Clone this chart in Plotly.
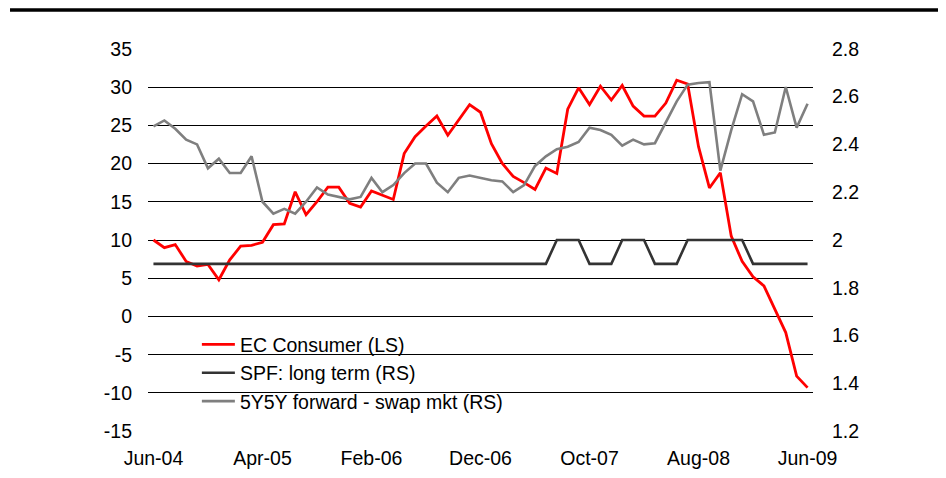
import pandas as pd
import plotly.subplots as sp
import plotly.graph_objs as go

months = pd.date_range("2004-06-01", "2009-06-01", freq="MS").strftime("%b-%y").tolist()
tick_months = ["Jun-04", "Apr-05", "Feb-06", "Dec-06", "Oct-07", "Aug-08", "Jun-09"]

ec_consumer = [10, 9, 9.4, 7.2, 6.6, 6.8, 4.8, 7.4, 9.2, 9.3,
               9.7, 12, 12.1, 16.3, 13.3, 15, 16.9, 16.9, 14.8, 14.3,
               16.4, 15.9, 15.3, 21.3, 23.5, 24.9, 26.2, 23.7, 25.7, 27.7,
               26.7, 22.6, 20, 18.3, 17.5, 16.6, 19.4, 18.7, 27.1, 29.9,
               27.7, 30.1, 28.3, 30.2, 27.5, 26.2, 26.2, 27.9, 30.9, 30.4,
               22.2, 16.8, 18.8, 10.5, 7.2, 5.2, 4, 1, -2.1, -7.8, -9.3]

spf_long_term = [1.9, 1.9, 1.9, 1.9, 1.9, 1.9, 1.9, 1.9, 1.9, 1.9,
                 1.9, 1.9, 1.9, 1.9, 1.9, 1.9, 1.9, 1.9, 1.9, 1.9,
                 1.9, 1.9, 1.9, 1.9, 1.9, 1.9, 1.9, 1.9, 1.9, 1.9,
                 1.9, 1.9, 1.9, 1.9, 1.9, 1.9, 1.9, 2.0, 2.0, 2.0,
                 1.9, 1.9, 1.9, 2.0, 2.0, 2.0, 1.9, 1.9, 1.9, 2.0,
                 2.0, 2.0, 2.0, 2.0, 2.0, 1.9, 1.9, 1.9, 1.9, 1.9, 1.9]

swap_5y5y = [2.475, 2.5, 2.465, 2.42, 2.40, 2.30, 2.34, 2.28, 2.28, 2.35,
             2.16, 2.11, 2.13, 2.11, 2.16, 2.22, 2.19, 2.18, 2.17, 2.18,
             2.26, 2.20, 2.23, 2.28, 2.32, 2.32, 2.24, 2.20, 2.26, 2.27,
             2.26, 2.25, 2.245, 2.20, 2.23, 2.31, 2.35, 2.38, 2.39, 2.41,
             2.47, 2.46, 2.44, 2.395, 2.42, 2.40, 2.405, 2.49, 2.58, 2.65,
             2.657, 2.66, 2.29, 2.46, 2.61, 2.58, 2.44, 2.45, 2.64, 2.47, 2.57]

left_ticks = [35, 30, 25, 20, 15, 10, 5, 0, -5, -10, -15]
right_ticks = [2.8, 2.6, 2.4, 2.2, 2.0, 1.8, 1.6, 1.4, 1.2]

font = dict(family="Arial, Liberation Sans, sans-serif", size=19.5, color="black")

fig = sp.make_subplots(specs=[[{"secondary_y": True}]])

fig.add_trace(go.Scatter(x=months, y=swap_5y5y, mode="lines", name="5Y5Y forward - swap mkt (RS)",
                         line=dict(color="#7f7f7f", width=2.6), legendrank=3),
              secondary_y=True)
fig.add_trace(go.Scatter(x=months, y=spf_long_term, mode="lines", name="SPF: long term (RS)",
                         line=dict(color="#333333", width=2.6), legendrank=2),
              secondary_y=True)
fig.add_trace(go.Scatter(x=months, y=ec_consumer, mode="lines", name="EC Consumer (LS)",
                         line=dict(color="#ff0000", width=2.8), legendrank=1),
              secondary_y=False)

# make_subplots leaves room for the secondary axis; take the full width instead
fig.update_xaxes(type="category", range=[-0.5, len(months) - 0.5], domain=[0, 1],
                 tickvals=tick_months, ticktext=tick_months, automargin=False,
                 showgrid=False, zeroline=False, showline=False,
                 ticks="", ticklabelstandoff=12, tickfont=font)
# pad the ranges a hair so the 35 and -15 gridlines are drawn
fig.update_yaxes(range=[-15.1, 35.1], tickvals=left_ticks, ticktext=[str(v) for v in left_ticks],
                 showgrid=True, gridcolor="black", gridwidth=1.3, zeroline=False, showline=False,
                 automargin=False, ticks="", ticklabelstandoff=15, tickfont=font, secondary_y=False)
fig.update_yaxes(range=[1.2 - 0.0032, 2.8 + 0.0032], tickvals=right_ticks,
                 ticktext=[f"{v:g}" for v in right_ticks],
                 showgrid=False, zeroline=False, showline=False, automargin=False,
                 ticks="", ticklabelstandoff=18, tickfont=font, secondary_y=True)

# heavy rule across the top of the page
fig.add_shape(type="line", xref="paper", yref="paper", x0=-0.2075, x1=1.19, y0=1.099, y1=1.099,
              line=dict(color="black", width=3.5))
# white patch behind the legend hides the gridlines there
fig.add_shape(type="rect", xref="paper", yref="paper", x0=0.0316, x1=0.567, y0=0.052, y1=0.276,
              fillcolor="white", line=dict(width=0), layer="between")

# page body has an 8px margin, so the figure is trimmed by that much
fig.update_layout(width=930, height=462, margin=dict(l=140, r=125, t=40, b=38, autoexpand=False),
                  paper_bgcolor="white", plot_bgcolor="white", font=font,
                  legend=dict(x=0.0735, y=0.278, xanchor="left", yanchor="top",
                              bgcolor="rgba(0,0,0,0)", font=font, traceorder="normal",
                              itemwidth=33))

fig.write_html("out.html")
